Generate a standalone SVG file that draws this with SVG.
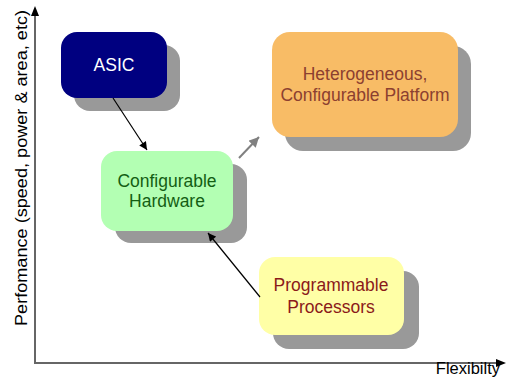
<svg xmlns="http://www.w3.org/2000/svg" width="507" height="385" viewBox="0 0 507 385">
  <defs>
    <marker id="head" viewBox="0 0 10 10" refX="10" refY="5" markerWidth="9" markerHeight="8" markerUnits="userSpaceOnUse" orient="auto">
      <path d="M0,0 L10,5 L0,10 z" fill="#000"/>
    </marker>
    <marker id="headGray" viewBox="0 0 10 10" refX="10" refY="5" markerWidth="5.5" markerHeight="5" orient="auto">
      <path d="M0,0 L10,5 L0,10 z" fill="#808080"/>
    </marker>
  </defs>
  <style>
    text { font-family: "Liberation Sans", Arial, sans-serif; }
    .shadow { fill: #999999; }
    .lbl { font-size: 17.5px; text-anchor: middle; }
    .axis { stroke: #666666; stroke-width: 2; fill: none; }
    .edge { stroke: #000; stroke-width: 1.2; fill: none; marker-end: url(#head); }
  </style>
  <rect width="507" height="385" fill="#ffffff"/>

  <!-- axes -->
  <g id="axes">
    <line class="axis" x1="35" y1="363" x2="35" y2="14"/>
    <polygon points="35,6 31,16 39,16" fill="#000"/>
    <line class="axis" x1="34" y1="363" x2="498" y2="363"/>
    <polygon points="506,363 496,359 496,367" fill="#000"/>
    <text x="500" y="374" font-size="16.5" text-anchor="end">Flexibilty</text>
    <text transform="translate(27,168) rotate(-90)" font-size="16" text-anchor="middle" textLength="316" lengthAdjust="spacingAndGlyphs">Perfomance (speed, power &amp; area, etc)</text>
  </g>

  <!-- nodes -->
  <g id="asic">
    <rect class="shadow" x="74" y="45" width="106" height="66" rx="16"/>
    <rect x="61" y="32" width="106" height="66" rx="16" fill="#000080"/>
    <text class="lbl" x="114" y="71" fill="#ffffff">ASIC</text>
  </g>

  <g id="hetero">
    <rect class="shadow" x="285" y="46" width="186" height="105" rx="18"/>
    <rect x="272" y="32" width="186" height="105" rx="18" fill="#f8bc66"/>
    <text class="lbl" x="365" y="80" fill="#8c4030">Heterogeneous,</text>
    <text class="lbl" x="365" y="101" fill="#8c4030">Configurable Platform</text>
  </g>

  <g id="confhw">
    <rect class="shadow" x="115" y="164" width="132" height="79" rx="16"/>
    <rect x="101" y="151" width="132" height="80" rx="16" fill="#b3ffb3"/>
    <text class="lbl" x="167" y="187" fill="#135e13">Configurable</text>
    <text class="lbl" x="167" y="207" fill="#135e13">Hardware</text>
  </g>

  <g id="procs">
    <rect class="shadow" x="273" y="271" width="146" height="78" rx="16"/>
    <rect x="259" y="257" width="145" height="78" rx="16" fill="#ffffa6"/>
    <text class="lbl" x="331" y="291" fill="#8b1a1a">Programmable</text>
    <text class="lbl" x="331" y="313" fill="#8b1a1a">Processors</text>
  </g>

  <!-- connectors -->
  <g id="connectors">
    <line class="edge" x1="113" y1="98" x2="147" y2="150"/>
    <line class="edge" x1="260" y1="297" x2="208" y2="233"/>
    <line x1="239" y1="158" x2="259" y2="137" stroke="#808080" stroke-width="2" marker-end="url(#headGray)"/>
  </g>
</svg>
